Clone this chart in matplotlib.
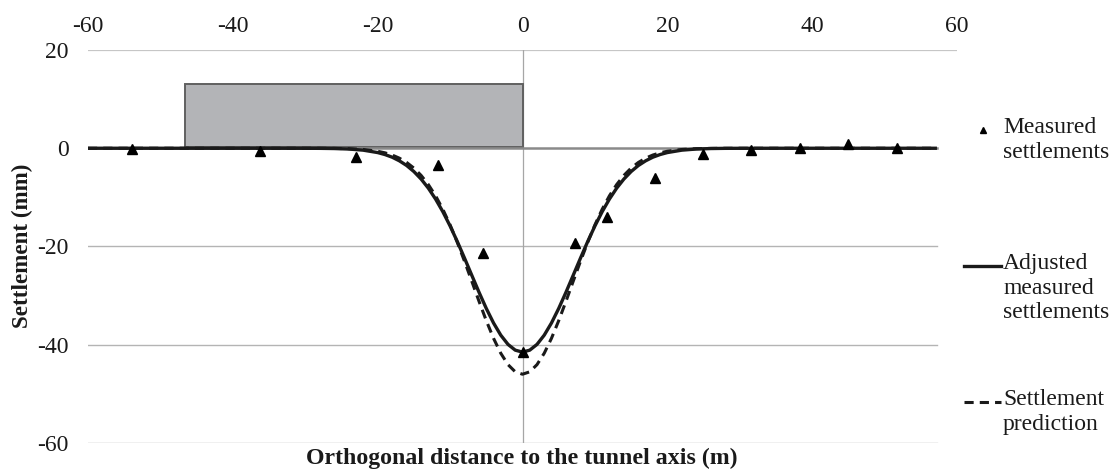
import matplotlib
matplotlib.use('Agg')
import matplotlib.pyplot as plt
from matplotlib.lines import Line2D
from matplotlib.patches import Rectangle

# Measured settlements (triangles)
measured_x = [-53.9, -36.3, -23.0, -11.6, -5.4, 0.0, 7.3, 11.6, 18.3, 24.9, 31.6, 38.3, 44.9, 51.7]
measured_y = [-0.2, -0.6, -1.7, -3.5, -21.4, -41.4, -19.3, -14.0, -6.1, -1.1, -0.3, 0.1, 0.8, 0.1]

# Points
curve_x = [-60, -50, -40, -35, -30, -28, -26, -24, -22, -20,
           -19, -18, -17, -16, -15, -14, -13, -12, -11, -10,
           -9, -8, -7, -6, -5, -4, -3, -2, -1, 0,
           1, 2, 3, 4, 5, 6, 7, 8, 9, 10,
           11, 12, 13, 14, 15, 16, 17, 18, 19, 20,
           22, 24, 26, 28, 30, 35, 40, 50, 57]
adjusted_y = [0.0, 0.0, 0.0, 0.0, -0.01, -0.02, -0.06, -0.16, -0.39, -0.88,
              -1.28, -1.82, -2.56, -3.51, -4.74, -6.27, -8.13, -10.35, -12.92, -15.82,
              -19.00, -22.39, -25.87, -29.33, -32.61, -35.57, -38.05, -39.93, -41.10, -41.50,
              -41.10, -39.93, -38.05, -35.57, -32.61, -29.33, -25.87, -22.39, -19.00, -15.82,
              -12.92, -10.35, -8.13, -6.27, -4.74, -3.51, -2.56, -1.82, -1.28, -0.88,
              -0.39, -0.16, -0.06, -0.02, -0.01, 0.0, 0.0, 0.0, 0.0]
prediction_y = [0.0, 0.0, 0.0, 0.0, 0.0, -0.01, -0.03, -0.09, -0.25, -0.61,
                -0.93, -1.38, -2.02, -2.89, -4.04, -5.53, -7.40, -9.69, -12.43, -15.60,
                -19.16, -23.03, -27.08, -31.17, -35.10, -38.69, -41.73, -44.05, -45.51, -46.00,
                -45.51, -44.05, -41.73, -38.69, -35.10, -31.17, -27.08, -23.03, -19.16, -15.60,
                -12.43, -9.69, -7.40, -5.53, -4.04, -2.89, -2.02, -1.38, -0.93, -0.61,
                -0.25, -0.09, -0.03, -0.01, 0.0, 0.0, 0.0, 0.0, 0.0]

# Building footprint (grey block)
building_x = [-46.6, 0.0]
building_height = 13.0

x_ticks = [-60, -40, -20, 0, 20, 40, 60]
y_ticks = [-60, -40, -20, 0, 20]

plt.rcParams['font.family'] = ['Liberation Serif', 'DejaVu Serif']
plt.rcParams['axes.unicode_minus'] = False
text_color = '#1a1a1a'
dash = (0, (3.0, 2.0))

fig = plt.figure(figsize=(11.15, 4.70), dpi=100)
ax = fig.add_axes([88 / 1115, 1 - 443 / 470, 869 / 1115, 393 / 470])

ax.set_xlim(-60, 60)
ax.set_ylim(-60, 20)

# gridlines (stop short on the right, like the original)
grid_end = 57.2
for yv in y_ticks:
    if yv == 20:
        ax.plot([-60, 60], [yv, yv], color='#c6c6c6', lw=1.6, zorder=1)
    elif yv != 0:
        ax.plot([-60, grid_end], [yv, yv], color='#b4b4b4', lw=1.0, zorder=1)
ax.plot([0, 0], [-60, 20], color='#a6a6a6', lw=0.9, zorder=1)

ax.add_patch(Rectangle((building_x[0], 0.3), building_x[1] - building_x[0], building_height - 0.3,
                       facecolor='#b3b4b7', edgecolor='#606060', lw=1.4, zorder=2))
ax.plot([-60, grid_end], [0, 0], color='#8a8a8a', lw=1.8, zorder=2)

ax.plot(curve_x, prediction_y, color='#1a1a1a', lw=2.2, ls=dash, zorder=3)
ax.plot(curve_x, adjusted_y, color='#1a1a1a', lw=2.4, zorder=4)
ax.plot(measured_x, measured_y, ls='none', marker='^', ms=6.5, color='black', zorder=5)

for s in ax.spines.values():
    s.set_visible(False)
ax.xaxis.tick_top()
ax.set_xticks(x_ticks)
ax.set_yticks(y_ticks)
ax.tick_params(axis='x', length=0, pad=9, labelsize=17, colors=text_color)
ax.tick_params(axis='y', length=0, pad=14, labelsize=17, colors=text_color)

fig.text(22 / 1115, 1 - 246 / 470, 'Settlement (mm)', rotation=90, ha='center', va='center',
         fontsize=16.6, fontweight='bold', color=text_color)
fig.text(522 / 1115, 1 - 458 / 470, 'Orthogonal distance to the tunnel axis (m)', ha='center',
         va='center', fontsize=17.2, fontweight='bold', color=text_color)

# legend drawn by hand so the key sits on the first text line
def px(x, y):
    return x / 1115, 1 - y / 470

fig.add_artist(Line2D(*zip(px(983, 130)), marker='^', ms=5, color='black', ls='none'))
fig.add_artist(Line2D(*zip(px(964, 266), px(1001, 266)), color='#1a1a1a', lw=2.4))
fig.add_artist(Line2D(*zip(px(964, 402), px(1001, 402)), color='#1a1a1a', lw=2.2, ls=dash))

legend_labels = [('Measured\nsettlements', 130),
                 ('Adjusted\nmeasured\nsettlements', 266),
                 ('Settlement\nprediction', 402)]
for label, yc in legend_labels:
    x0, y0 = px(1003, yc - 13)
    fig.text(x0, y0, label, ha='left', va='top', fontsize=17, linespacing=1.22, color=text_color)

fig.savefig('out.png', dpi=100)
